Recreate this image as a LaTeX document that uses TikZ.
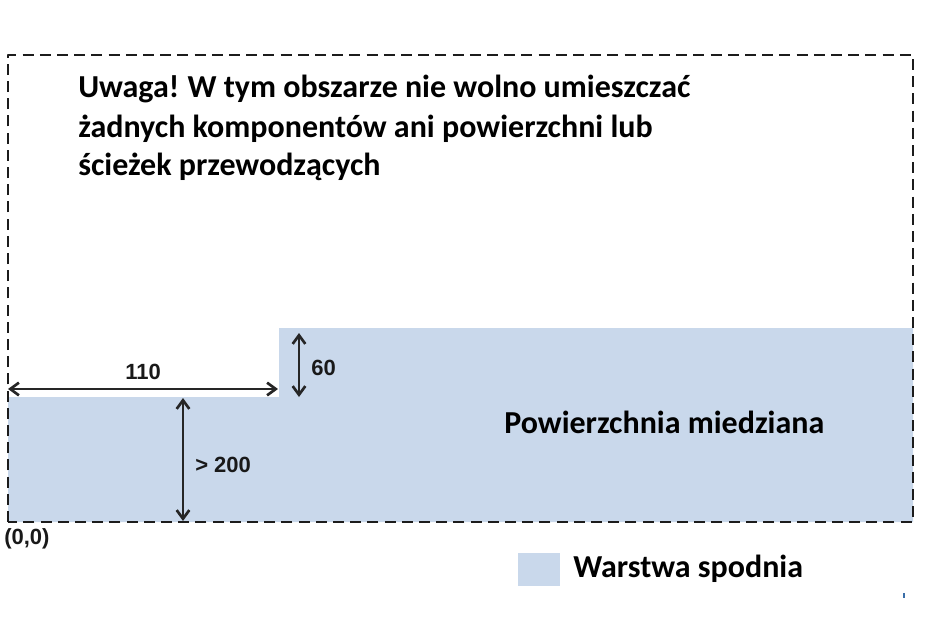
\documentclass[tikz,border=0pt]{standalone}
\usepackage{fontspec}
\setmainfont{Carlito}
\newfontfamily\labelfont{Liberation Sans}
\usetikzlibrary{arrows.meta}
\definecolor{copper}{HTML}{C9D8EB}
\definecolor{dashink}{HTML}{1C1C1C}
\definecolor{speck}{HTML}{3A6EA8}
\tikzset{
  note/.style={anchor=base west,inner sep=0pt,font=\fontsize{24}{28}\selectfont\bfseries,text=black},
  dim/.style={anchor=base west,inner sep=0pt,font=\labelfont\fontsize{16.5}{18}\selectfont\bfseries,text=black!90},
  border/.style={draw=dashink,line width=2pt,line join=round,dash pattern=on 8.3pt off 4.6pt},
  dimline/.style={draw=black!85,line width=2pt,{Straight Barb[length=6.5pt,width=9.5pt]}-{Straight Barb[length=6.5pt,width=9.5pt]}}
}
\begin{document}
\begin{tikzpicture}[x=0.75pt,y=-0.75pt]
\useasboundingbox (0,0) rectangle (928,643);
\fill[white] (0,0) rectangle (928,643);
\fill[copper] (8,397) -- (279,397) -- (279,328) -- (913,328) -- (913,522) -- (8,522) -- cycle;
\draw[border] (8,522) -- (8,55) -- (913,55) -- (913,522) -- cycle;
\coordinate (w110l) at (8,389); \coordinate (w110r) at (278,389);
\coordinate (h60t) at (299,333); \coordinate (h60b) at (299,397);
\coordinate (h200t) at (183,398); \coordinate (h200b) at (183,521);
\draw[dimline] (w110l) -- (w110r);
\draw[dimline] (h60t) -- (h60b);
\draw[dimline] (h200t) -- (h200b);
\node[dim] (l110) at (125,379) {110};
\node[dim] (l60) at (311,375) {60};
\node[dim] (l200) at (195,472) {> 200};
\node[dim] (orig) at (4,544) {(0,0)};
\node[note] (n1) at (78,97) {Uwaga!\hspace{-1pt} W tym obszarze nie wolno umieszczać};
\node[note] (n2) at (78,137) {żadnych komponentów ani powierzchni lub};
\node[note] (n3) at (78,175) {ścieżek przewodzących};
\node[note] (cu) at (504,433) {Powierzchnia miedziana};
\fill[copper] (518,553) rectangle (560,586);
\node[note] (leg) at (573,577) {Warstwa spodnia};
\fill[speck] (903,593) rectangle (904.5,598);
\end{tikzpicture}
\end{document}
